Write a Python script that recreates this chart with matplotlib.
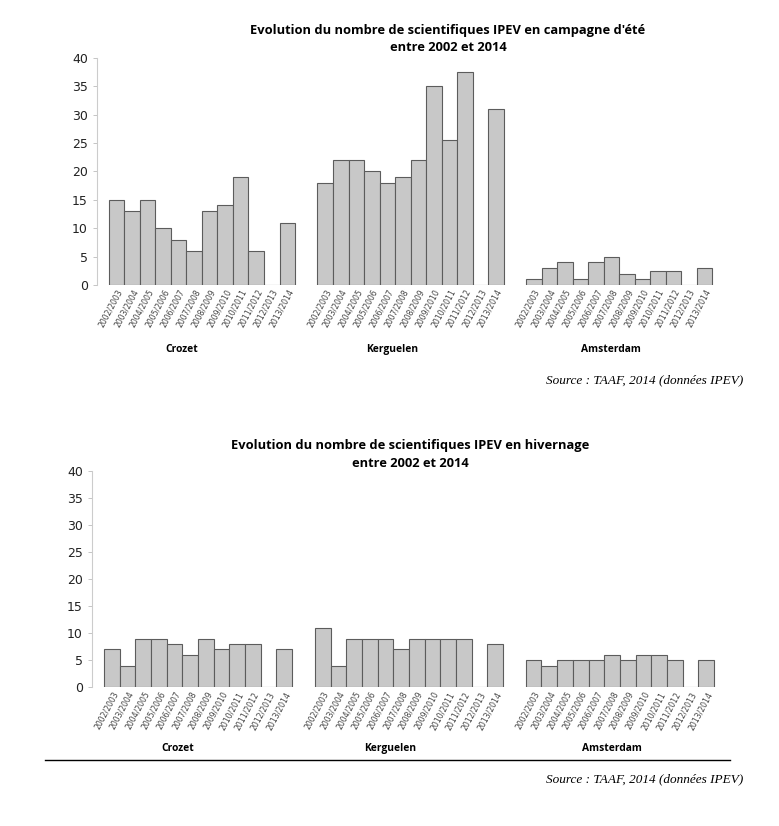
import matplotlib
matplotlib.use("Agg")
import matplotlib.pyplot as plt

# data
saisons = ["2002/2003", "2003/2004", "2004/2005", "2005/2006", "2006/2007", "2007/2008",
           "2008/2009", "2009/2010", "2010/2011", "2011/2012", "2012/2013", "2013/2014"]
districts = ["Crozet", "Kerguelen", "Amsterdam"]

ete_crozet = [15, 13, 15, 10, 8, 6, 13, 14, 19, 6, 0, 11]
ete_kerguelen = [18, 22, 22, 20, 18, 19, 22, 35, 25.5, 37.5, 0, 31]
ete_amsterdam = [1, 3, 4, 1, 4, 5, 2, 1, 2.5, 2.5, 0, 3]

hiv_crozet = [7, 4, 9, 9, 8, 6, 9, 7, 8, 8, 0, 7]
hiv_kerguelen = [11, 4, 9, 9, 9, 7, 9, 9, 9, 9, 0, 8]
hiv_amsterdam = [5, 4, 5, 5, 5, 6, 5, 6, 6, 5, 0, 5]

titre_ete = "Evolution du nombre de scientifiques IPEV en campagne d'été\nentre 2002 et 2014"
titre_hiv = "Evolution du nombre de scientifiques IPEV en hivernage\nentre 2002 et 2014"
source = "Source : TAAF, 2014 (données IPEV)"

GROUP_STEP = 13.45
BAR_FILL = "#c8c8c8"
BAR_EDGE = "#5c5c5c"
LABEL_SHIFT = [-1.3, -1.2, -0.5]  # district labels sit a bit left of the group centre


def draw_panel(ax, series):
    ticks, labels = [], []
    for g, vals in enumerate(series):
        xs = [g * GROUP_STEP + i + 0.5 for i in range(len(vals))]
        ax.bar(xs, vals, width=1.0, color=BAR_FILL, edgecolor=BAR_EDGE, linewidth=0.8)
        ticks += xs
        labels += saisons
        mid = g * GROUP_STEP + len(vals) / 2 + LABEL_SHIFT[g]
        ax.text(mid, -11.3, districts[g], ha="center", va="center",
                fontsize=7.4, fontweight="bold", family="Open Sans")
    ax.set_xticks(ticks)
    ax.set_xticklabels(labels, rotation=62, ha="right", rotation_mode="anchor",
                       fontsize=5.6, color="#444444")
    ax.tick_params(axis="x", length=0, pad=2)
    ax.set_xlim(-0.77, 2 * GROUP_STEP + 12 + 0.77)
    ax.set_ylim(0, 40)
    ax.set_yticks(range(0, 41, 5))
    ax.tick_params(axis="y", labelsize=9, colors="#bbbbbb", labelcolor="#222222",
                   length=3, width=0.6)
    for s in ["top", "right", "bottom"]:
        ax.spines[s].set_visible(False)
    ax.spines["left"].set_color("#cccccc")
    ax.spines["left"].set_linewidth(0.8)


fig = plt.figure(figsize=(7.79, 8.26), dpi=100)

ax1 = fig.add_axes([0.1245, 0.655, 0.805, 0.275])
draw_panel(ax1, [ete_crozet, ete_kerguelen, ete_amsterdam])
fig.text(0.575, 0.953, titre_ete, ha="center", va="center", fontsize=9.3,
         fontweight="bold", family="Open Sans", linespacing=1.45)
fig.text(0.954, 0.54, source, ha="right", va="center", fontsize=9.5,
         style="italic", family="Liberation Serif")

ax2 = fig.add_axes([0.118, 0.168, 0.814, 0.262])
draw_panel(ax2, [hiv_crozet, hiv_kerguelen, hiv_amsterdam])
fig.text(0.527, 0.45, titre_hiv, ha="center", va="center", fontsize=9.3,
         fontweight="bold", family="Open Sans", linespacing=1.45)
fig.add_artist(plt.Line2D([0.058, 0.937], [0.08, 0.08], color="black", linewidth=1.0))
fig.text(0.954, 0.057, source, ha="right", va="center", fontsize=9.5,
         style="italic", family="Liberation Serif")

fig.savefig("out.png", dpi=100)
